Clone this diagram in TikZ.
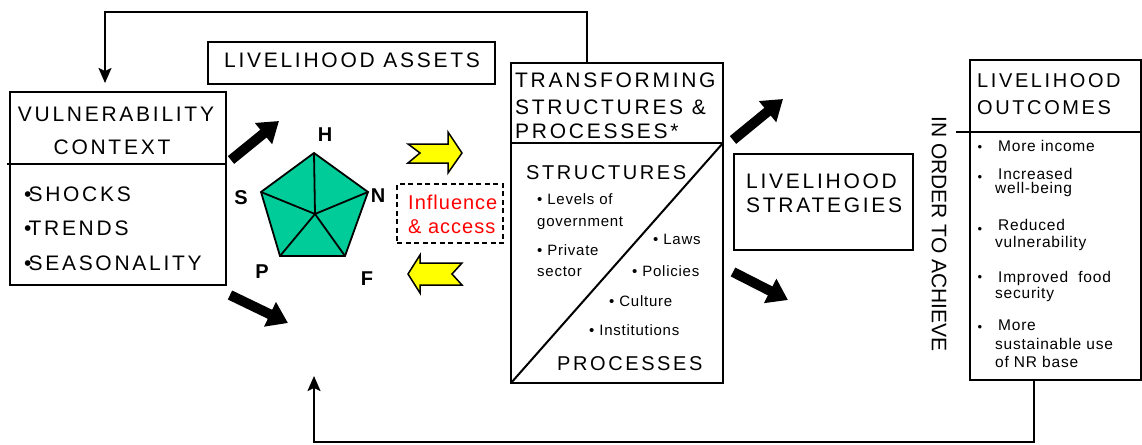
\documentclass[tikz,border=0pt]{standalone}
\usepackage{fontspec}
\setmainfont{Liberation Sans}
\newfontfamily\capsfont[LetterSpace=13]{Liberation Sans}
\newfontfamily\itemfont[LetterSpace=5]{Liberation Sans}
\usetikzlibrary{arrows.meta}
\definecolor{capital}{RGB}{0,204,153}
\definecolor{flowyellow}{RGB}{255,255,0}
\definecolor{influred}{RGB}{255,0,0}

\begin{document}
\begin{tikzpicture}[x=1pt,y=-1pt,
  frame/.style={draw, line width=2pt, inner sep=0pt, outer sep=0pt, anchor=north west},
  rule/.style={line width=2pt},
  feedback/.style={line width=2pt, -{Stealth[length=15pt,width=13pt,inset=3pt]}},
  blockarrow/.style={line width=10pt, -{Triangle[length=20pt,width=26pt]}},
  yellowarrow/.style={draw, fill=flowyellow, line width=1.5pt, line join=miter},
  hd/.style={inner sep=0pt, anchor=base west, font=\capsfont\fontsize{21}{24}\selectfont},
  hdc/.style={hd, anchor=base},
  sub/.style={inner sep=0pt, anchor=base west, font=\capsfont\fontsize{20}{24}\selectfont},
  item/.style={inner sep=0pt, anchor=base west, font=\itemfont\fontsize{15}{18}\selectfont},
  outitem/.style={inner sep=0pt, anchor=base west, font=\itemfont\fontsize{15.5}{18}\selectfont},
  dot/.style={inner sep=0pt, font=\fontsize{13}{14}\selectfont},
  capletter/.style={inner sep=0pt, anchor=base, font=\bfseries\fontsize{20}{24}\selectfont},
]
\useasboundingbox (0,0) rectangle (1142,444);

% ---------- boxes ----------
\node[frame, minimum width=216pt, minimum height=193pt] (vc) at (10,92) {};
\node[frame, minimum width=287pt, minimum height=41.5pt] (assets) at (208,42) {};
\node[frame, minimum width=212pt, minimum height=320pt] (ts) at (511,63) {};
\node[frame, minimum width=179pt, minimum height=96pt] (ls) at (734,154) {};
\node[frame, minimum width=171pt, minimum height=320pt] (lo) at (970,60) {};
\node[frame, line width=1.6pt, dash pattern=on 5pt off 3.5pt, minimum width=106pt, minimum height=59pt] (ia) at (397,184) {};

% dividers
\coordinate (vcl) at (7,164);
\coordinate (vcr) at (vc.east |- vcl);
\draw[rule] (vcl) -- (vcr);
\coordinate (tsl) at (ts.west |- 0,143);
\coordinate (tsr) at (ts.east |- 0,143);
\draw[rule] (tsl) -- (tsr);
\draw[rule] (ts.south west) -- (tsr);
\coordinate (lol) at (956,131.5);
\coordinate (lor) at (lo.east |- lol);
\draw[rule] (lol) -- (lor);

% ---------- vulnerability context ----------
\node[hdc] (vc1) at (116,121.5) {VULNERABILITY};
\node[hdc] (vc2) at (112,154.5) {CONTEXT};
\node[hd] (vcs) at (24,201.5) {•\kern-3pt SHOCKS};
\node[hd] (vct) at (24,235.5) {•\kern-3pt TRENDS};
\node[hd] (vcz) at (24,270.5) {•\kern-3pt SEASONALITY};

% ---------- livelihood assets ----------
\node[hdc] (assetstext) at (352,67.5) {LIVELIHOOD ASSETS};

% asset pentagon
\coordinate (pH) at (314,153);
\coordinate (pN) at (368,192);
\coordinate (pF) at (345,256);
\coordinate (pP) at (280,256);
\coordinate (pS) at (261,192);
\coordinate (pC) at (315,214);
\fill[capital] (pH) -- (pN) -- (pF) -- (pP) -- (pS) -- cycle;
\draw[line width=1.8pt, line join=miter] (pH) -- (pN) -- (pF) -- (pP) -- (pS) -- cycle;
\draw[line width=1.8pt] (pC) -- (pH) (pC) -- (pN) (pC) -- (pF) (pC) -- (pP) (pC) -- (pS);
\node[capletter] (lH) at (325,141) {H};
\node[capletter] (lS) at (241,204) {S};
\node[capletter] (lN) at (378,202) {N};
\node[capletter] (lP) at (262,278) {P};
\node[capletter] (lF) at (367,285) {F};

% influence and access
\node[inner sep=0pt, anchor=base west, text=influred, font=\itemfont\fontsize{20}{24}\selectfont] (ia1) at (408,209) {Influence};
\node[inner sep=0pt, anchor=base west, text=influred, font=\itemfont\fontsize{20}{24}\selectfont] (ia2) at (408,233) {\& access};

% yellow two-way arrows
\draw[yellowarrow] (408,144) -- (420,153) -- (408,163) -- (448,163) -- (448,173) -- (462,153) -- (448,132) -- (448,144) -- cycle;
\draw[yellowarrow] (408,274) -- (420,255) -- (420,263) -- (462,263) -- (452,274) -- (462,285) -- (420,285) -- (420,293) -- cycle;

% ---------- transforming structures & processes ----------
\node[hd] (ts1) at (515,87) {TRANSFORMING};
\node[hd] (ts2) at (515,114) {STRUCTURES \&};
\node[hd] (ts3) at (515,138.5) {PROCESSES*};
\node[sub] (tsS) at (526,179.5) {STRUCTURES};
\node[sub] (tsP) at (557,370) {PROCESSES};
\node[item] (s1) at (537,204) {• Levels of};
\node[item] (s2) at (537,226) {government};
\node[item] (s3) at (537,255) {• Private};
\node[item] (s4) at (537,276) {sector};
\node[item] (p1) at (653,244) {• Laws};
\node[item] (p2) at (632,276) {• Policies};
\node[item] (p3) at (609,306) {• Culture};
\node[item] (p4) at (589,335) {• Institutions};

% ---------- livelihood strategies ----------
\node[hd] (ls1) at (746,188) {LIVELIHOOD};
\node[hd] (ls2) at (746,212.5) {STRATEGIES};

\node[inner sep=0pt, rotate=-90, font=\fontsize{21}{24}\selectfont] (goal) at (939,234) {IN ORDER TO ACHIEVE};

% ---------- livelihood outcomes ----------
\node[hd, font=\capsfont\fontsize{20}{24}\selectfont] (lo1) at (977,87) {LIVELIHOOD};
\node[hd, font=\capsfont\fontsize{20}{24}\selectfont] (lo2) at (977,114) {OUTCOMES};
\node[dot] (b1) at (980,148) {•};
\node[dot] (b2) at (980,178) {•};
\node[dot] (b3) at (980,230) {•};
\node[dot] (b4) at (980,278) {•};
\node[dot] (b5) at (980,328) {•};
\node[outitem] (o1) at (998,151) {More income};
\node[outitem] (o2a) at (998,179) {Increased};
\node[outitem] (o2b) at (995,193) {well-being};
\node[outitem] (o3a) at (998,230) {Reduced};
\node[outitem] (o3b) at (995,247) {vulnerability};
\node[outitem] (o4a) at (998,282) {Improved\ \ food};
\node[outitem] (o4b) at (995,298) {security};
\node[outitem] (o5a) at (998,330) {More};
\node[outitem] (o5b) at (995,349) {sustainable use};
\node[outitem] (o5c) at (995,367) {of NR base};

% ---------- influence arrows ----------
\coordinate (a1s) at (231,160);  \coordinate (a1e) at (279,121);
\coordinate (a2s) at (230,295);  \coordinate (a2e) at (288,323);
\coordinate (a3s) at (733,140);  \coordinate (a3e) at (783,99);
\coordinate (a4s) at (733,272);  \coordinate (a4e) at (788,300);
\draw[blockarrow] (a1s) -- (a1e);
\draw[blockarrow] (a2s) -- (a2e);
\draw[blockarrow] (a3s) -- (a3e);
\draw[blockarrow] (a4s) -- (a4e);

% ---------- feedback loops ----------
\coordinate (topturn) at (587,12);
\draw[feedback, shorten >=9pt] (ts.north -| topturn) -- (topturn) -| (vc.north -| 105,0);
\coordinate (assetsbase) at (314,376);
\coordinate (botturn) at (1034,442);
\draw[feedback] (lo.south -| botturn) -- (botturn) -| (assetsbase);
\end{tikzpicture}
\end{document}
